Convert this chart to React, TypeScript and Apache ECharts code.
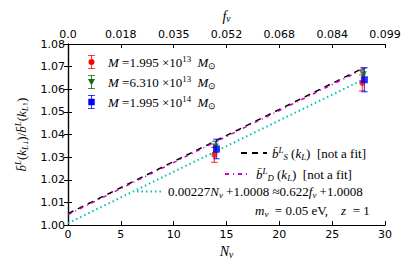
import React, { useEffect, useRef } from 'react';
import * as echarts from 'echarts';

// ---- data ----
const xTicksBottom = [0, 5, 10, 15, 20, 25, 30];
const fTickLabels = ['0.0', '0.018', '0.035', '0.052', '0.068', '0.084', '0.099'];

const massMantissa = ['1.995', '6.310', '1.995'];
const massExponent = ['13', '13', '14'];

const redN = [13.85, 27.85];
const redVal = [1.031, 1.0628];
const redErr = [0.0033, 0.0035];

const greenN = [13.95, 27.95];
const greenVal = [1.0345, 1.0664];
const greenErr = [0.0025, 0.003];

const blueN = [14.05, 28.05];
const blueVal = [1.0336, 1.0642];
const blueErr = [0.0043, 0.0053];

const lineN = [0, 28];
const bSVals = [1.005, 1.0695];
const bDVals = [1.0046, 1.069];
const fitVals = [1.0008, 1.0644];

// ---- styles ----
const SERIF = 'Liberation Serif';
const SANS = 'DejaVu Sans';
const RED = '#ff0000';
const GREEN = '#0a6e0a';
const BLUE = '#0000ff';
const MAGENTA = '#cc00cc';
const CYAN = '#00bfbf';

const rich = (fs: number) => ({
  i: { fontFamily: SERIF, fontStyle: 'italic', fontSize: fs, lineHeight: 16, color: '#000' },
  n: { fontFamily: SERIF, fontSize: fs, lineHeight: 16, color: '#000' },
  sup: { fontFamily: SERIF, fontStyle: 'italic', fontSize: fs * 0.68, lineHeight: 9, verticalAlign: 'top', color: '#000' },
  supn: { fontFamily: SERIF, fontSize: fs * 0.68, lineHeight: 9, verticalAlign: 'top', color: '#000' },
  sub: { fontFamily: SERIF, fontStyle: 'italic', fontSize: fs * 0.68, lineHeight: 9, verticalAlign: 'bottom', color: '#000' },
  subn: { fontFamily: SERIF, fontSize: fs * 0.68, lineHeight: 9, verticalAlign: 'bottom', color: '#000' },
});

const ICON_CIRCLE = 'path://M3.1 0H3.9V14H3.1Z M0 0H7V0.8H0Z M0 13.2H7V14H0Z M6.5 7A3 3 0 1 1 0.5 7A3 3 0 1 1 6.5 7Z';
const ICON_TRI = 'path://M3.1 0H3.9V14H3.1Z M0 0H7V0.8H0Z M0 13.2H7V14H0Z M0 4H7L3.5 10.5Z';
const ICON_SQ = 'path://M3.1 0H3.9V14H3.1Z M0 0H7V0.8H0Z M0 13.2H7V14H0Z M0.3 3.7H6.7V10.3H0.3Z';

const massNames = ['M1', 'M2', 'M3'];

function errSeries(name: string, N: number[], V: number[], E: number[], color: string) {
  return {
    type: 'custom',
    name,
    data: N.map((n, i) => [n, V[i], E[i]]),
    encode: { x: 0, y: 1 },
    z: 3,
    silent: true,
    renderItem: (params: any, api: any) => {
      const x = api.value(0);
      const y = api.value(1);
      const e = api.value(2);
      const top = api.coord([x, y + e]);
      const bot = api.coord([x, y - e]);
      const cw = 3.2;
      const st = { stroke: color, lineWidth: 1.2, opacity: 0.75 };
      return {
        type: 'group',
        children: [
          { type: 'line', shape: { x1: top[0], y1: top[1], x2: bot[0], y2: bot[1] }, style: st },
          { type: 'line', shape: { x1: top[0] - cw, y1: top[1], x2: top[0] + cw, y2: top[1] }, style: st },
          { type: 'line', shape: { x1: bot[0] - cw, y1: bot[1], x2: bot[0] + cw, y2: bot[1] }, style: st },
        ],
      };
    },
  };
}

function pts(N: number[], V: number[]) {
  return N.map((n, i) => [n, V[i]]);
}

export default function App() {
  const ref = useRef<HTMLDivElement>(null);
  useEffect(() => {
    if (!ref.current) return;
    const chart = echarts.init(ref.current, undefined, { renderer: 'svg' });
    const axisLine = { show: true, lineStyle: { color: '#000', width: 1.2 } };
    const axisTick = { show: true, inside: true, length: 4, lineStyle: { color: '#000', width: 1 } };
    const lineLegend = {
      padding: 0, itemWidth: 26, itemHeight: 14, selectedMode: false,
      itemStyle: { opacity: 0 },
      textStyle: { rich: rich(13) },
    };
    const option: any = {
      animation: false,
      backgroundColor: '#fff',
      grid: { left: 68, right: 28, top: 44, bottom: 50 },
      xAxis: [
        {
          type: 'value', position: 'bottom', min: 0, max: 30, interval: 5,
          axisLine, axisTick, splitLine: { show: false },
          axisLabel: { margin: 4, fontFamily: SANS, fontSize: 11, color: '#000',
            formatter: (v: number) => (xTicksBottom.indexOf(v) >= 0 ? String(v) : '') },
          name: '{i|N}{sub|ν}', nameLocation: 'middle', nameGap: 17,
          nameTextStyle: { rich: rich(14) },
        },
        {
          type: 'value', position: 'top', min: 0, max: 30, interval: 5,
          axisLine, axisTick, splitLine: { show: false },
          axisLabel: { margin: 4, fontFamily: SANS, fontSize: 11, color: '#000',
            formatter: (v: number) => fTickLabels[Math.round(v / 5)] ?? '' },
          name: '{i|f}{sub|ν}', nameLocation: 'middle', nameGap: 14,
          nameTextStyle: { rich: rich(14) },
        },
      ],
      yAxis: [
        {
          type: 'value', position: 'left', min: 1.0, max: 1.08, interval: 0.01,
          axisLine, axisTick, splitLine: { show: false },
          axisLabel: { margin: 3, fontFamily: SANS, fontSize: 11, color: '#000',
            formatter: (v: number) => v.toFixed(2) },
          name: '{i|b̄}{sup|L}{n|(}{i|k}{sub|L↓}{n|)/}{i|b̄}{sup|L}{n|(}{i|k}{sub|L↑}{n|)}',
          nameLocation: 'middle', nameGap: 35, nameRotate: 90,
          nameTextStyle: { rich: rich(13) },
        },
        {
          type: 'value', position: 'right', min: 1.0, max: 1.08, interval: 0.01,
          axisLine, axisTick, splitLine: { show: false }, axisLabel: { show: false },
        },
      ],
      legend: [
        {
          orient: 'vertical', left: 88, top: 54, padding: 0, itemGap: 4,
          itemWidth: 7, itemHeight: 14,
          selectedMode: false,
          data: [
            { name: massNames[0], icon: ICON_CIRCLE, itemStyle: { color: RED } },
            { name: massNames[1], icon: ICON_TRI, itemStyle: { color: GREEN } },
            { name: massNames[2], icon: ICON_SQ, itemStyle: { color: BLUE } },
          ],
          formatter: (name: string) => {
            const k = massNames.indexOf(name);
            return `{i|M}{n| =${massMantissa[k]} ×10}{supn|${massExponent[k]}}{n|  }{i|M}{subn|⊙}`;
          },
          textStyle: { padding: [0, 0, 0, 8], rich: rich(13) },
        },
        {
          ...lineLegend, left: 240, top: 145,
          data: ['bS'],
          formatter: () => '{i|b̄}{sup|L}{sub|S}{n| (}{i|k}{sub|L}{n|)  [not a fit]}',
        },
        {
          ...lineLegend, left: 224, top: 166,
          data: ['bD'],
          formatter: () => '{i|b̄}{sup|L}{sub|D}{n| (}{i|k}{sub|L}{n|)  [not a fit]}',
        },
        {
          ...lineLegend, left: 136, top: 185,
          data: ['fit'],
          formatter: () => '{n|0.00227}{i|N}{sub|ν}{n| +1.0008 ≈0.622}{i|f}{sub|ν}{n| +1.0008}',
        },
      ],
      graphic: [
        {
          type: 'text', left: 255, top: 204,
          style: {
            text: '{i|m}{sub|ν}{n|  = 0.05 eV,    }{i|z}{n|  = 1}',
            rich: rich(13),
          },
        },
      ],
      series: [
        {
          type: 'line', name: 'bS', data: pts(lineN, bSVals), symbol: 'none', z: 2,
          lineStyle: { color: '#000', width: 1.5, type: [6, 5] }, itemStyle: { color: '#000' },
        },
        {
          type: 'line', name: 'bD', data: pts(lineN, bDVals), symbol: 'none', z: 2,
          lineStyle: { color: MAGENTA, width: 1.5, type: [4, 4, 1, 4] }, itemStyle: { color: MAGENTA },
        },
        {
          type: 'line', name: 'fit', data: pts(lineN, fitVals), symbol: 'none', z: 2,
          lineStyle: { color: CYAN, width: 2, type: [1.5, 3] }, itemStyle: { color: CYAN },
        },
        errSeries(massNames[0], redN, redVal, redErr, RED),
        errSeries(massNames[1], greenN, greenVal, greenErr, GREEN),
        errSeries(massNames[2], blueN, blueVal, blueErr, BLUE),
        {
          type: 'scatter', name: massNames[0], data: pts(redN, redVal), symbol: 'circle', symbolSize: 6, z: 4,
          itemStyle: { color: RED },
        },
        {
          type: 'scatter', name: massNames[1], data: pts(greenN, greenVal), symbol: 'triangle', symbolRotate: 180,
          symbolSize: 7, z: 4, itemStyle: { color: GREEN },
        },
        {
          type: 'scatter', name: massNames[2], data: pts(blueN, blueVal), symbol: 'rect', symbolSize: 7, z: 4,
          itemStyle: { color: BLUE },
        },
      ],
    };
    chart.setOption(option);
    return () => chart.dispose();
  }, []);
  return <div ref={ref} style={{ position: 'absolute', left: 0, top: 0, width: 413, height: 275 }} />;
}
